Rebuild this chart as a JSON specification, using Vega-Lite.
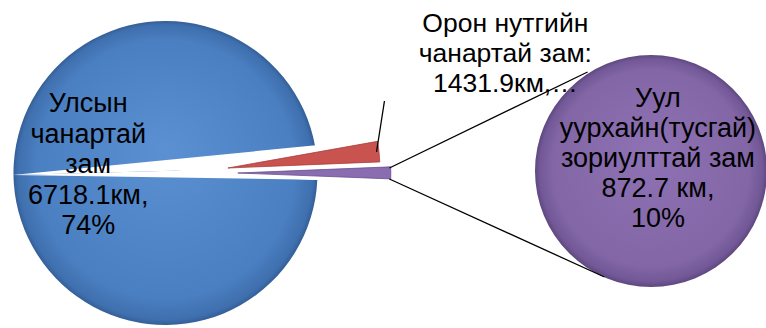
{
  "$schema": "https://vega.github.io/schema/vega-lite/v6.json",
  "width": 766,
  "height": 328,
  "padding": 0,
  "autosize": {"type": "fit", "contains": "padding"},
  "background": "white",
  "config": {"view": {"stroke": null}, "font": "Liberation Sans"},
  "data": {
    "values": [
      {"category": "Улсын чанартай зам", "value": 6718.1, "pct": 74, "label": ["Улсын", "чанартай", "зам", "6718.1км,", "74%"]},
      {"category": "Орон нутгийн чанартай зам", "value": 1431.9, "pct": 16, "label": ["Орон нутгийн", "чанартай зам:", "1431.9км,…"]},
      {"category": "Уул уурхайн(тусгай) зориулттай зам", "value": 872.7, "pct": 10, "label": ["Уул", "уурхайн(тусгай)", "зориулттай зам", "872.7 км,", "10%"]}
    ]
  },
  "transform": [
    {"stack": "value", "groupby": [], "sort": [{"field": "value", "order": "descending"}], "as": ["start", "end"]}
  ],
  "resolve": {"scale": {"theta": "independent"}},
  "layer": [
    {
      "transform": [{"filter": "datum.category === 'Улсын чанартай зам'"}],
      "mark": {"type": "arc", "radius": 152, "color": {"gradient": "radial", "x1": 0.5, "y1": 0.42, "x2": 0.5, "y2": 0.5, "r1": 0, "r2": 0.5, "stops": [{"offset": 0, "color": "#5b90d3"}, {"offset": 0.85, "color": "#4a7fc1"}, {"offset": 0.97, "color": "#3f6fae"}, {"offset": 1, "color": "#345f97"}]}},
      "encoding": {
        "x": {"datum": 167, "type": "quantitative", "scale": {"domain": [0, 766], "nice": false, "zero": false}, "axis": null},
        "y": {"datum": 173, "type": "quantitative", "scale": {"domain": [0, 328], "nice": false, "zero": false, "reverse": true}, "axis": null},
        "theta": {"field": "start", "type": "quantitative", "scale": {"domain": [0, 6718.1, 8150, 9022.7], "range": [1.6162, 7.6777, 7.8138, 7.8924], "zero": false, "nice": false}},
        "theta2": {"field": "end"}
      }
    },
    {
      "transform": [{"filter": "datum.category !== 'Улсын чанартай зам'"}],
      "mark": {"type": "arc", "radius": 330, "color": "white"},
      "encoding": {
        "x": {"datum": 13, "type": "quantitative", "scale": {"domain": [0, 766], "nice": false, "zero": false}, "axis": null},
        "y": {"datum": 175, "type": "quantitative", "scale": {"domain": [0, 328], "nice": false, "zero": false, "reverse": true}, "axis": null},
        "theta": {"field": "start", "type": "quantitative", "scale": {"domain": [6718.1, 9022.7], "range": [1.4731, 1.5865], "zero": false, "nice": false}},
        "theta2": {"field": "end"}
      }
    },
    {
      "transform": [{"filter": "datum.category === 'Орон нутгийн чанартай зам'"}],
      "mark": {"type": "arc", "radius": 152, "color": "#c9534f", "stroke": "#a8403d", "strokeWidth": 0.8},
      "encoding": {
        "x": {"datum": 230, "type": "quantitative", "scale": {"domain": [0, 766], "nice": false, "zero": false}, "axis": null},
        "y": {"datum": 168, "type": "quantitative", "scale": {"domain": [0, 328], "nice": false, "zero": false, "reverse": true}, "axis": null},
        "theta": {"field": "start", "type": "quantitative", "scale": {"domain": [0, 6718.1, 8150, 9022.7], "range": [1.6162, 7.6777, 7.8138, 7.8924], "zero": false, "nice": false}},
        "theta2": {"field": "end"}
      }
    },
    {
      "transform": [{"filter": "datum.category === 'Уул уурхайн(тусгай) зориулттай зам'"}],
      "mark": {"type": "arc", "radius": 153, "color": "#8a6cb0", "stroke": "#6a5090", "strokeWidth": 0.8},
      "encoding": {
        "x": {"datum": 240, "type": "quantitative", "scale": {"domain": [0, 766], "nice": false, "zero": false}, "axis": null},
        "y": {"datum": 173, "type": "quantitative", "scale": {"domain": [0, 328], "nice": false, "zero": false, "reverse": true}, "axis": null},
        "theta": {"field": "start", "type": "quantitative", "scale": {"domain": [0, 6718.1, 8150, 9022.7], "range": [1.6162, 7.6777, 7.8138, 7.8924], "zero": false, "nice": false}},
        "theta2": {"field": "end"}
      }
    },
    {
      "transform": [{"filter": "datum.category === 'Уул уурхайн(тусгай) зориулттай зам'"}],
      "mark": {"type": "arc", "radius": 116, "color": {"gradient": "radial", "x1": 0.5, "y1": 0.42, "x2": 0.5, "y2": 0.5, "r1": 0, "r2": 0.5, "stops": [{"offset": 0, "color": "#8e72b3"}, {"offset": 0.85, "color": "#8266a6"}, {"offset": 0.96, "color": "#725896"}, {"offset": 1, "color": "#5e4880"}]}},
      "encoding": {
        "x": {"datum": 657, "type": "quantitative", "scale": {"domain": [0, 766], "nice": false, "zero": false}, "axis": null},
        "y": {"datum": 171, "type": "quantitative", "scale": {"domain": [0, 328], "nice": false, "zero": false, "reverse": true}, "axis": null},
        "theta": {"field": "value", "type": "quantitative", "stack": "normalize", "scale": {"domain": [0, 1], "range": [0, 6.2832]}}
      }
    },
    {
      "transform": [{"filter": "datum.category === 'Уул уурхайн(тусгай) зориулттай зам'"}],
      "mark": {"type": "rule", "color": "black", "strokeWidth": 1.3},
      "encoding": {
        "x": {"datum": 393, "type": "quantitative", "scale": {"domain": [0, 766], "nice": false, "zero": false}, "axis": null},
        "y": {"datum": 168, "type": "quantitative", "scale": {"domain": [0, 328], "nice": false, "zero": false, "reverse": true}, "axis": null},
        "x2": {"datum": 593},
        "y2": {"datum": 72}
      }
    },
    {
      "transform": [{"filter": "datum.category === 'Уул уурхайн(тусгай) зориулттай зам'"}],
      "mark": {"type": "rule", "color": "black", "strokeWidth": 1.3},
      "encoding": {
        "x": {"datum": 393, "type": "quantitative", "scale": {"domain": [0, 766], "nice": false, "zero": false}, "axis": null},
        "y": {"datum": 179, "type": "quantitative", "scale": {"domain": [0, 328], "nice": false, "zero": false, "reverse": true}, "axis": null},
        "x2": {"datum": 610},
        "y2": {"datum": 277}
      }
    },
    {
      "transform": [{"filter": "datum.category === 'Орон нутгийн чанартай зам'"}],
      "mark": {"type": "rule", "color": "black", "strokeWidth": 1.3},
      "encoding": {
        "x": {"datum": 380, "type": "quantitative", "scale": {"domain": [0, 766], "nice": false, "zero": false}, "axis": null},
        "y": {"datum": 152, "type": "quantitative", "scale": {"domain": [0, 328], "nice": false, "zero": false, "reverse": true}, "axis": null},
        "x2": {"datum": 388},
        "y2": {"datum": 101}
      }
    },
    {
      "transform": [{"filter": "datum.category === 'Улсын чанартай зам'"}],
      "mark": {"type": "text", "align": "center", "baseline": "alphabetic", "fontSize": 27, "lineHeight": 30.5, "color": "black"},
      "encoding": {
        "x": {"datum": 89, "type": "quantitative", "scale": {"domain": [0, 766], "nice": false, "zero": false}, "axis": null},
        "y": {"datum": 112, "type": "quantitative", "scale": {"domain": [0, 328], "nice": false, "zero": false, "reverse": true}, "axis": null},
        "text": {"field": "label"}
      }
    },
    {
      "transform": [{"filter": "datum.category === 'Орон нутгийн чанартай зам'"}],
      "mark": {"type": "text", "align": "center", "baseline": "alphabetic", "fontSize": 26.5, "lineHeight": 30, "color": "black"},
      "encoding": {
        "x": {"datum": 510, "type": "quantitative", "scale": {"domain": [0, 766], "nice": false, "zero": false}, "axis": null},
        "y": {"datum": 32, "type": "quantitative", "scale": {"domain": [0, 328], "nice": false, "zero": false, "reverse": true}, "axis": null},
        "text": {"field": "label"}
      }
    },
    {
      "transform": [{"filter": "datum.category === 'Уул уурхайн(тусгай) зориулттай зам'"}],
      "mark": {"type": "text", "align": "center", "baseline": "alphabetic", "fontSize": 27, "lineHeight": 30, "color": "black"},
      "encoding": {
        "x": {"datum": 664, "type": "quantitative", "scale": {"domain": [0, 766], "nice": false, "zero": false}, "axis": null},
        "y": {"datum": 107, "type": "quantitative", "scale": {"domain": [0, 328], "nice": false, "zero": false, "reverse": true}, "axis": null},
        "text": {"field": "label"}
      }
    }
  ]
}
